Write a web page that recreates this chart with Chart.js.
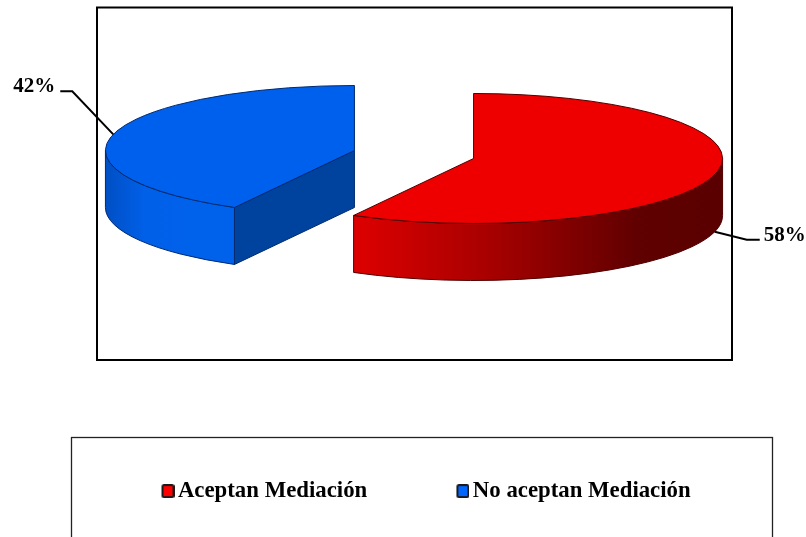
<!DOCTYPE html>
<html>
<head>
<meta charset="utf-8">
<style>
  html, body { margin: 0; padding: 0; background: #fff; overflow: hidden; }
  canvas { display: block; }
</style>
<script src="https://cdn.jsdelivr.net/npm/chart.js@4"></script>
</head>
<body>
<canvas id="pieChart" width="806" height="537"></canvas>
<script>
const categories = ['Aceptan Mediación', 'No aceptan Mediación'];
const percentages = [58, 42];

const topColors = ['#ee0000', '#0060ee'];
const legendColors = ['#ff0000', '#0066ff'];
const edgeColors = ['#500000', '#002a70'];
const wallStops = [
  [[0, '#de0000'], [0.39, '#a40000'], [0.77, '#600000'], [1, '#5a0000']],
  [[0, '#004fc4'], [0.3, '#0060e8'], [1, '#0062ec']]
];
const cutColor = '#00439f';

// fake 3D settings
const pieCenter = { x: 414, y: 154.5 };
const radius = 249;
const squash = 65 / 249;
const depth = 57;
const explode = 61.5;
const FONT = 'bold 21px "Liberation Serif"';

// leader line bends, measured from the point on the rim
const leaders = [
  { knee: [32, 8], end: [45, 8], textAlign: 'left', textGap: 4 },
  { knee: [-41, -43], end: [-53, -43], textAlign: 'right', textGap: -5 }
];

// small rounded square for the legend, blank strip on the left pulls the text closer
function legendBox(color) {
  const c = document.createElement('canvas');
  c.width = 17;
  c.height = 14;
  const g = c.getContext('2d');
  g.beginPath();
  g.roundRect(5, 1, 11, 12, 1.5);
  g.fillStyle = color;
  g.fill();
  g.lineWidth = 2;
  g.strokeStyle = '#1a1a1a';
  g.stroke();
  return c;
}

function sliceCenter(arc) {
  const mid = (arc.startAngle + arc.endAngle) / 2;
  return {
    x: pieCenter.x + Math.cos(mid) * explode,
    y: pieCenter.y + Math.sin(mid) * explode * squash
  };
}

function rim(c, angle) {
  return { x: c.x + radius * Math.cos(angle), y: c.y + radius * squash * Math.sin(angle) };
}

// side of the slice, only the part of the rim facing the viewer
function drawWall(ctx, arc, c, i) {
  const a1 = Math.max(arc.startAngle, 0);
  const a2 = Math.min(arc.endAngle, Math.PI);
  if (a2 <= a1) return;
  const xs = [Math.cos(a1), Math.cos(a2)];
  if (a1 <= 0) xs.push(1);
  const grad = ctx.createLinearGradient(c.x + radius * Math.min(...xs), 0, c.x + radius * Math.max(...xs), 0);
  wallStops[i].forEach(s => grad.addColorStop(s[0], s[1]));
  ctx.beginPath();
  ctx.ellipse(c.x, c.y, radius, radius * squash, 0, a1, a2);
  ctx.ellipse(c.x, c.y + depth, radius, radius * squash, 0, a2, a1, true);
  ctx.closePath();
  ctx.fillStyle = grad;
  ctx.fill();
  ctx.lineWidth = 1;
  ctx.strokeStyle = edgeColors[i];
  ctx.stroke();
}

// flat cut face, when it turns towards the viewer
function drawCut(ctx, arc, c, i) {
  [[arc.startAngle, -1], [arc.endAngle, 1]].forEach(([angle, side]) => {
    if (side * Math.cos(angle) < 0.001) return;
    const p = rim(c, angle);
    ctx.beginPath();
    ctx.moveTo(c.x, c.y);
    ctx.lineTo(p.x, p.y);
    ctx.lineTo(p.x, p.y + depth);
    ctx.lineTo(c.x, c.y + depth);
    ctx.closePath();
    ctx.fillStyle = cutColor;
    ctx.fill();
    ctx.lineWidth = 1;
    ctx.strokeStyle = edgeColors[i];
    ctx.stroke();
  });
}

const pie3d = {
  id: 'pie3d',
  afterLayout(chart) {
    // legend sits inside its own frame below the plot
    chart.legend.left = 72.3;
    chart.legend.top = 386.5;
  },
  beforeDraw(chart) {
    const ctx = chart.ctx;
    ctx.save();
    ctx.fillStyle = '#fff';
    ctx.fillRect(0, 0, chart.width, chart.height);
    ctx.strokeStyle = '#000';
    ctx.lineWidth = 2;
    ctx.strokeRect(97, 7.5, 635, 352.5);
    ctx.strokeStyle = '#222';
    ctx.lineWidth = 1.3;
    ctx.strokeRect(71.5, 437.5, 701, 120);
    ctx.restore();
  },
  beforeDatasetDraw(chart, args) {
    const ctx = chart.ctx;
    const arcs = args.meta.data;
    // blue first, red comes in front
    [1, 0].forEach(i => {
      const arc = arcs[i];
      const c = sliceCenter(arc);
      ctx.save();
      drawWall(ctx, arc, c, i);
      drawCut(ctx, arc, c, i);
      ctx.save();
      ctx.translate(c.x, c.y);
      ctx.scale(1, squash);
      ctx.translate(-arc.x, -arc.y);
      arc.draw(ctx);
      ctx.restore();
      // outline of the top
      ctx.beginPath();
      ctx.moveTo(c.x, c.y);
      ctx.ellipse(c.x, c.y, radius, radius * squash, 0, arc.startAngle, arc.endAngle);
      ctx.closePath();
      ctx.lineWidth = 1;
      ctx.strokeStyle = edgeColors[i];
      ctx.stroke();
      ctx.restore();
    });
    return false;
  },
  afterDraw(chart) {
    const ctx = chart.ctx;
    const arcs = chart.getDatasetMeta(0).data;
    ctx.save();
    ctx.font = FONT;
    ctx.fillStyle = '#000';
    ctx.textBaseline = 'alphabetic';
    arcs.forEach((arc, i) => {
      const l = leaders[i];
      const c = sliceCenter(arc);
      const mid = (arc.startAngle + arc.endAngle) / 2;
      const p = rim(c, mid);
      // a rim point on the front side starts at the bottom of the wall
      if (Math.sin(mid) > 0) p.y += depth;
      ctx.beginPath();
      ctx.moveTo(p.x, p.y);
      ctx.lineTo(p.x + l.knee[0], p.y + l.knee[1]);
      ctx.lineTo(p.x + l.end[0], p.y + l.end[1]);
      ctx.lineWidth = 2;
      ctx.strokeStyle = '#000';
      ctx.stroke();
      ctx.textAlign = l.textAlign;
      ctx.fillText(percentages[i] + '%', p.x + l.end[0] + l.textGap, p.y + l.end[1] + 1);
    });
    ctx.restore();
  }
};

new Chart(document.getElementById('pieChart').getContext('2d'), {
  type: 'pie',
  data: {
    labels: categories,
    datasets: [{
      data: percentages,
      backgroundColor: topColors,
      borderWidth: 0
    }]
  },
  options: {
    responsive: false,
    animation: false,
    devicePixelRatio: 1,
    radius: radius,
    plugins: {
      tooltip: { enabled: false },
      legend: {
        position: 'bottom',
        align: 'start',
        labels: {
          usePointStyle: true,
          pointStyleWidth: 1,
          padding: 93.2,
          color: '#000',
          font: { family: '"Liberation Serif"', size: 22.8, weight: 'bold' },
          generateLabels: () => categories.map((name, i) => ({
            text: name,
            index: i,
            hidden: false,
            fillStyle: legendColors[i],
            pointStyle: legendBox(legendColors[i])
          }))
        }
      }
    }
  },
  plugins: [pie3d]
});
</script>
</body>
</html>
